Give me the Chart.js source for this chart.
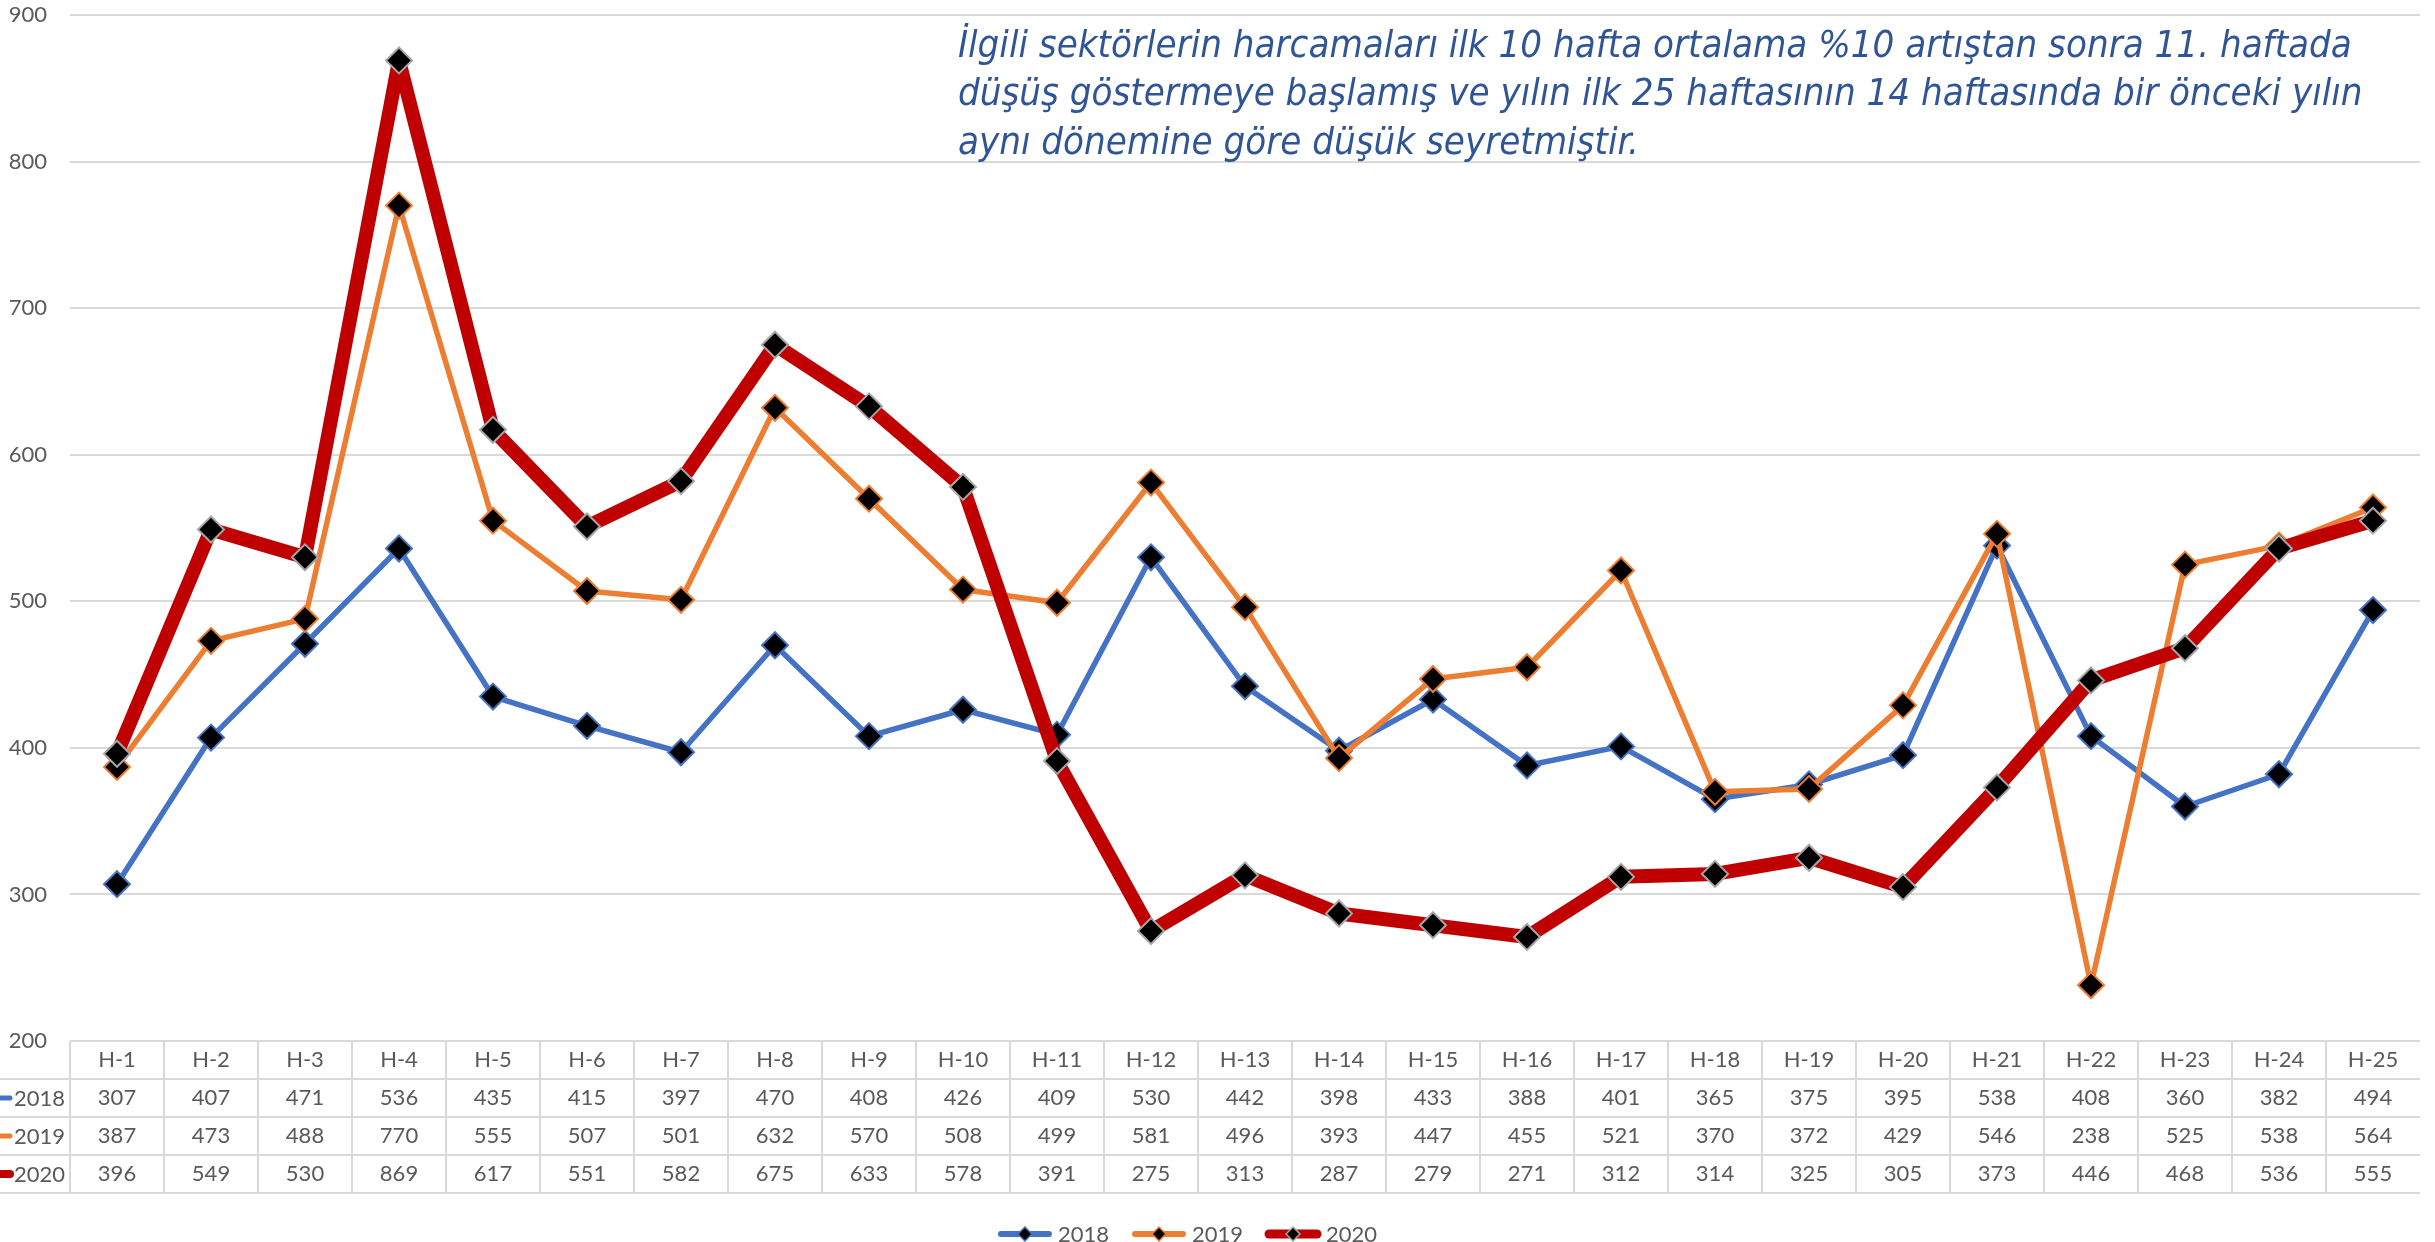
<!DOCTYPE html>
<html>
<head>
<meta charset="utf-8">
<script src="https://cdn.jsdelivr.net/npm/chart.js@4.4.1/dist/chart.umd.min.js"></script>
<style>
html,body{margin:0;padding:0;background:#fff;}
#wrap{position:relative;width:2435px;height:1242px;}
</style>
</head>
<body>
<div id="wrap"><canvas id="c" width="2435" height="1242"></canvas></div>
<script>
const weeks = ["H-1","H-2","H-3","H-4","H-5","H-6","H-7","H-8","H-9","H-10","H-11","H-12","H-13","H-14","H-15","H-16","H-17","H-18","H-19","H-20","H-21","H-22","H-23","H-24","H-25"];
const seriesNames = ["2018","2019","2020"];
const values2018 = [307,407,471,536,435,415,397,470,408,426,409,530,442,398,433,388,401,365,375,395,538,408,360,382,494];
const values2019 = [387,473,488,770,555,507,501,632,570,508,499,581,496,393,447,455,521,370,372,429,546,238,525,538,564];
const values2020 = [396,549,530,869,617,551,582,675,633,578,391,275,313,287,279,271,312,314,325,305,373,446,468,536,555];
const yTicks = [200,300,400,500,600,700,800,900];
const noteLines = [
  "İlgili sektörlerin harcamaları ilk 10 hafta ortalama %10 artıştan sonra 11. haftada",
  "düşüş göstermeye başlamış ve yılın ilk 25 haftasının 14 haftasında bir önceki yılın",
  "aynı dönemine göre düşük seyretmiştir."
];

const FONT = "Lato, 'Noto Sans', sans-serif";
const NOTEFONT = "'Liberation Sans Narrow', 'DejaVu Sans Condensed', Lato, sans-serif";
const TXT = "#595959";
const GRID = "#d9d9d9";
const colors = ["#4472C4","#ED7D31","#C00000"];
const widths = [5.5,5.5,14];
const markerBorders = ["#4472C4","#ED7D31","#A6A6A6"];
const allValues = [values2018, values2019, values2020];

const tablePlugin = {
  id: 'dataTable',
  afterDraw(chart) {
    const ctx = chart.ctx;
    const xs = chart.scales.x;
    const ca = chart.chartArea;
    const n = weeks.length;
    const colW = (ca.right - ca.left) / n;
    const top = ca.bottom;
    const rowH = 38;
    ctx.save();
    ctx.strokeStyle = GRID;
    ctx.lineWidth = 2;
    ctx.beginPath();
    ctx.moveTo(ca.left, top); ctx.lineTo(ca.right, top);
    for (let r = 1; r <= 4; r++) {
      ctx.moveTo(0, top + r*rowH); ctx.lineTo(ca.right, top + r*rowH);
    }
    for (let i = 0; i < n; i++) {
      const xl = xs.getPixelForValue(i) - colW/2;
      ctx.moveTo(xl, top); ctx.lineTo(xl, top + 4*rowH);
    }
    ctx.stroke();
    ctx.fillStyle = TXT;
    ctx.font = "22px " + FONT;
    ctx.textAlign = "center";
    ctx.textBaseline = "middle";
    for (let i = 0; i < n; i++) {
      const cx = xs.getPixelForValue(i);
      ctx.fillText(weeks[i], cx, top + rowH/2);
      for (let s = 0; s < 3; s++) {
        ctx.fillText(String(allValues[s][i]), cx, top + rowH*(s+1) + rowH/2);
      }
    }
    ctx.textAlign = "left";
    ctx.font = "22px " + FONT;
    for (let s = 0; s < 3; s++) {
      const cy = top + rowH*(s+1) + rowH/2;
      ctx.strokeStyle = colors[s];
      ctx.lineCap = "round";
      ctx.lineWidth = s === 2 ? 8 : 5;
      ctx.beginPath(); ctx.moveTo(-6, cy); ctx.lineTo(10, cy); ctx.stroke();
      ctx.fillStyle = TXT;
      ctx.fillText(seriesNames[s], 14, cy + 1);
    }
    // legend
    const ly = 1234;
    ctx.font = "22px " + FONT;
    const keyW = 56, gap = 5, itemGap = 22;
    let total = 0;
    const tw = seriesNames.map(t => ctx.measureText(t).width);
    for (let s = 0; s < 3; s++) total += keyW + gap + tw[s] + (s < 2 ? itemGap : 0);
    let x = 1187 - total/2;
    for (let s = 0; s < 3; s++) {
      ctx.strokeStyle = colors[s];
      ctx.lineCap = "round";
      ctx.lineWidth = s === 2 ? 9 : 6;
      ctx.beginPath(); ctx.moveTo(x + 4, ly); ctx.lineTo(x + keyW - 4, ly); ctx.stroke();
      const mx = x + keyW/2;
      ctx.fillStyle = "#000";
      ctx.strokeStyle = markerBorders[s];
      ctx.lineWidth = 1.5;
      ctx.beginPath();
      ctx.moveTo(mx, ly - 7); ctx.lineTo(mx + 7, ly); ctx.lineTo(mx, ly + 7); ctx.lineTo(mx - 7, ly); ctx.closePath();
      ctx.fill(); ctx.stroke();
      ctx.fillStyle = TXT;
      ctx.textAlign = "left";
      ctx.fillText(seriesNames[s], x + keyW + gap, ly + 1);
      x += keyW + gap + tw[s] + itemGap;
    }
    // annotation
    ctx.font = "italic 100px " + NOTEFONT;
    const w0 = ctx.measureText(noteLines[0]).width;
    const fs = 100 * 1396 / w0;
    ctx.font = "italic " + fs.toFixed(1) + "px " + NOTEFONT;
    ctx.fillStyle = "#2F5597";
    ctx.textAlign = "left";
    ctx.textBaseline = "middle";
    const ys = [47, 95, 144];
    noteLines.forEach((t, i) => ctx.fillText(t, 958, ys[i]));
    ctx.restore();
  }
};

const datasets = seriesNames.map((name, s) => ({
  label: name,
  data: allValues[s],
  borderColor: colors[s],
  backgroundColor: "#000",
  borderWidth: widths[s],
  borderJoinStyle: 'round',
  borderCapStyle: 'round',
  pointStyle: 'rectRot',
  pointRadius: 13,
  pointBackgroundColor: "#000",
  pointBorderColor: markerBorders[s],
  pointBorderWidth: 2,
  tension: 0,
  fill: false,
  order: 2 - s
}));

new Chart(document.getElementById('c'), {
  type: 'line',
  data: { labels: weeks, datasets },
  options: {
    responsive: false,
    devicePixelRatio: 1,
    animation: false,
    clip: false,
    layout: { padding: { top: 10, right: 0, left: 0, bottom: 0 } },
    plugins: { legend: { display: false }, tooltip: { enabled: false } },
    scales: {
      x: {
        offset: true,
        grid: { display: false },
        border: { display: false },
        ticks: { display: false },
        afterFit(s) { s.height = 201; s.paddingLeft = 0; s.paddingRight = 0; }
      },
      y: {
        min: 200, max: 900,
        afterBuildTicks(s) { s.ticks = yTicks.map(v => ({ value: v })); },
        grid: { color: GRID, lineWidth: 2, drawTicks: false },
        border: { display: false },
        ticks: { color: TXT, font: { family: FONT, size: 22 }, padding: 23 },
        afterFit(s) { s.width = 70; s.paddingTop = 0; s.paddingBottom = 0; }
      }
    }
  },
  plugins: [tablePlugin]
});
</script>
</body>
</html>
